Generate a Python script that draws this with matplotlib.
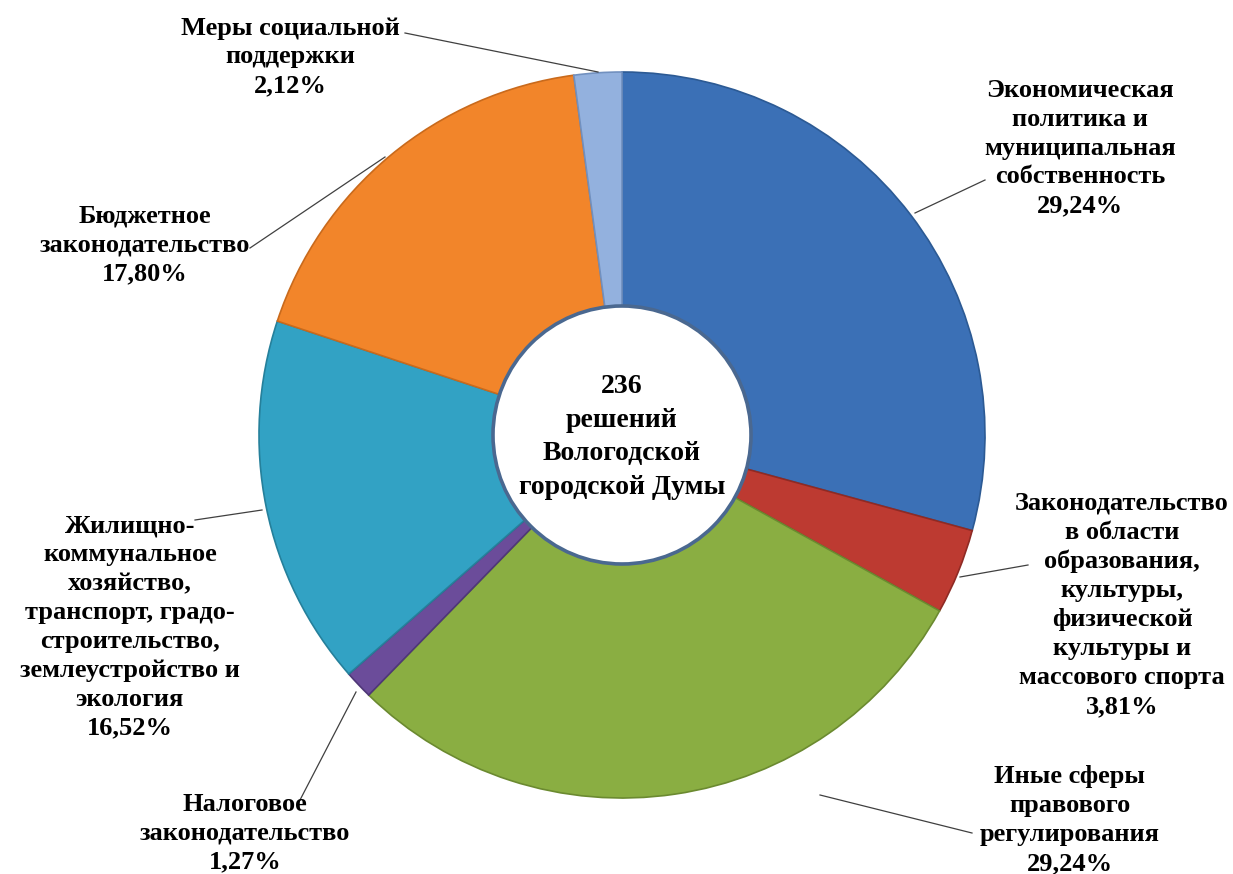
import matplotlib
matplotlib.use("Agg")
import matplotlib.pyplot as plt
from matplotlib.patches import Circle

# data, clockwise from the top
labels = ["Экономическая\nполитика и\nмуниципальная\nсобственность\n29,24%",
          "Законодательство\nв области\nобразования,\nкультуры,\nфизической\nкультуры и\nмассового спорта\n3,81%",
          "Иные сферы\nправового\nрегулирования\n29,24%",
          "Налоговое\nзаконодательство\n1,27%",
          "Жилищно-\nкоммунальное\nхозяйство,\nтранспорт, градо-\nстроительство,\nземлеустройство и\nэкология\n16,52%",
          "Бюджетное\nзаконодательство\n17,80%",
          "Меры социальной\nподдержки\n2,12%"]
values = [29.24, 3.81, 29.24, 1.27, 16.52, 17.80, 2.12]
colors = ["#3b70b6", "#bd3a31", "#8aae42", "#6b4c9a", "#32a2c4", "#f2852a", "#93b1de"]
edges = ["#2c5a94", "#8f2a24", "#6b8a30", "#4f3777", "#25809b", "#c96a1c", "#7190bf"]
center_text = "236\nрешений\nВологодской\nгородской Думы"

# label centres and leader lines (pixel coords, y from top)
label_pos = [(1080, 148), (1122, 605), (1070, 820), (245, 833),
             (130, 627), (145, 245), (290, 57)]
leaders = [((915, 213), (985, 180)), ((960, 577), (1028, 565)),
           ((820, 795), (972, 833)), ((356, 692), (300, 800)),
           ((262, 510), (195, 520)), ((385, 157), (250, 248)),
           ((598, 72), (405, 33))]

W, H = 1233, 874
fig = plt.figure(figsize=(W / 100, H / 100), dpi=100)
ax = fig.add_axes([0, 0, 1, 1])

cx, cy = 622, H - 435
R, r = 363, 127
explode = [0, 0, 0.012, 0, 0, 0, 0]
wedges, _ = ax.pie(values, colors=colors, startangle=90, counterclock=False,
                   radius=R, center=(cx, cy), explode=explode, frame=True,
                   wedgeprops=dict(width=R - r, linewidth=1.2))
for w, ec in zip(wedges, edges):
    w.set_edgecolor(ec)
ax.set_xlim(0, W)
ax.set_ylim(0, H)
ax.set_aspect("equal")
ax.axis("off")

ax.add_patch(Circle((cx, cy), r + 2, facecolor="white", edgecolor="#4a6890",
                    linewidth=2.6, zorder=5))
ax.text(cx, cy - 2, center_text, ha="center", va="center", fontsize=20,
        fontweight="bold", family="Liberation Serif", linespacing=1.45,
        zorder=6)

for txt, (x, y) in zip(labels, label_pos):
    ax.text(x, H - y, txt, ha="center", va="center", fontsize=19,
            fontweight="bold", family="Liberation Serif", linespacing=1.33)
for (x0, y0), (x1, y1) in leaders:
    ax.plot([x0, x1], [H - y0, H - y1], color="#404040", linewidth=0.9)

fig.savefig("out.png", dpi=100)
